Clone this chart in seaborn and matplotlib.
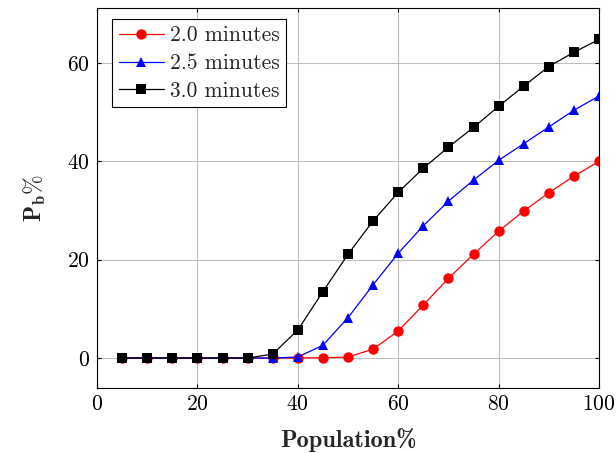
import numpy as np
import pandas as pd
import matplotlib
matplotlib.use('Agg')
import matplotlib.pyplot as plt
import seaborn as sns

# Dados
population = [5, 10, 15, 20, 25, 30, 35, 40, 45, 50, 55, 60, 65, 70, 75, 80, 85, 90, 95, 100]
pb_2_0 = [0, 0, 0, 0, 0, 0, 0, 0, 0.05, 0.2, 1.8, 5.5, 10.8, 16.2, 21.1, 25.8, 29.9, 33.6, 37.0, 40.0]
pb_2_5 = [0, 0, 0, 0, 0, 0, 0, 0.2, 2.6, 8.2, 14.9, 21.3, 26.9, 31.9, 36.2, 40.2, 43.6, 47.0, 50.4, 53.3]
pb_3_0 = [0, 0, 0, 0, 0, 0, 0.8, 5.7, 13.5, 21.1, 27.9, 33.7, 38.6, 42.9, 46.9, 51.2, 55.3, 59.3, 62.2, 64.8]
series_labels = ['2.0 minutes', '2.5 minutes', '3.0 minutes']

sns.set_style('ticks')
plt.rcParams['font.family'] = ['cmr10', 'DejaVu Serif']
plt.rcParams['mathtext.fontset'] = 'cm'
plt.rcParams['axes.unicode_minus'] = False
plt.rcParams['axes.formatter.use_mathtext'] = True

df = pd.DataFrame({
    'Population': population * 3,
    'Pb': pb_2_0 + pb_2_5 + pb_3_0,
    'serie': [series_labels[0]] * 20 + [series_labels[1]] * 20 + [series_labels[2]] * 20,
})

palette = {'2.0 minutes': '#ff0000', '2.5 minutes': '#0000ff', '3.0 minutes': '#000000'}
markers = {'2.0 minutes': 'o', '2.5 minutes': '^', '3.0 minutes': 's'}

fig = plt.figure(figsize=(6.16, 4.53), dpi=100)
ax = fig.add_axes([0.1575, 0.1435, 0.8149, 0.8388])

sns.lineplot(data=df, x='Population', y='Pb', hue='serie', style='serie',
             palette=palette, markers=markers, dashes=False, linewidth=0.9,
             markersize=7.5, markeredgewidth=0, ax=ax)

ax.set_xlim(0, 100)
ax.set_ylim(-6.1, 71.2)
ax.set_xticks([0, 20, 40, 60, 80, 100])
ax.set_yticks([0, 20, 40, 60])
ax.grid(True, color='#bfbfbf', linewidth=0.8)
ax.set_axisbelow(True)
ax.tick_params(direction='in', top=True, right=True, labelsize=15.5, length=3, colors='black', pad=5)
for s in ax.spines.values():
    s.set_color('black')
    s.set_linewidth(0.8)
    s.set_visible(True)

ax.set_xlabel('Population%', fontsize=17.5, fontfamily='cmb10', labelpad=10)
ax.set_ylabel(r'$\mathbf{P_b\%}$', fontsize=17, labelpad=14)

leg = ax.legend(loc='upper left', fontsize=15.5, frameon=True, fancybox=False,
                edgecolor='black', framealpha=1, handlelength=2.1,
                borderpad=0.3, labelspacing=0.38, handletextpad=0.3,
                borderaxespad=0, bbox_to_anchor=(0.03, 0.97))
leg.get_frame().set_linewidth(0.8)
for h in leg.get_lines():
    h.set_linewidth(0.9)

plt.savefig('out.png', dpi=100)
plt.close()
